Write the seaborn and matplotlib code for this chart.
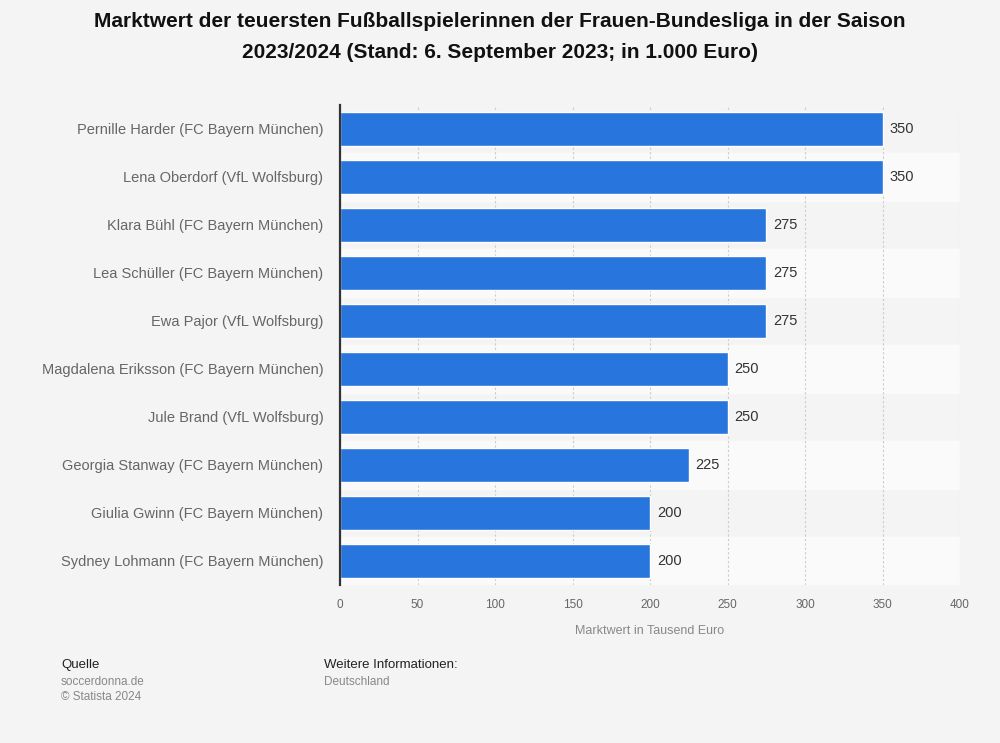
import pandas as pd
import seaborn as sns
import matplotlib.pyplot as plt

sns.set_theme(style="white")
plt.rcParams['font.family'] = ['Liberation Sans', 'DejaVu Sans']

# Data
players = [
    "Pernille Harder (FC Bayern München)",
    "Lena Oberdorf (VfL Wolfsburg)",
    "Klara Bühl (FC Bayern München)",
    "Lea Schüller (FC Bayern München)",
    "Ewa Pajor (VfL Wolfsburg)",
    "Magdalena Eriksson (FC Bayern München)",
    "Jule Brand (VfL Wolfsburg)",
    "Georgia Stanway (FC Bayern München)",
    "Giulia Gwinn (FC Bayern München)",
    "Sydney Lohmann (FC Bayern München)",
]
values = [350, 350, 275, 275, 275, 250, 250, 225, 200, 200]
xticks = [0, 50, 100, 150, 200, 250, 300, 350, 400]

df = pd.DataFrame({"Spielerin": players, "Wert": values})

bg = "#f4f4f4"
fig = plt.figure(figsize=(10, 7.43), dpi=100, facecolor=bg)
ax = fig.add_axes([0.34, 0.2127, 0.62, 0.6460])
ax.set_facecolor(bg)

# alternating row stripes
for i in range(len(players)):
    if i % 2 == 1:
        ax.axhspan(i - 0.5, i + 0.5, color="#fafafa", zorder=0.1)

# dotted vertical grid lines above the stripes
for t in xticks[1:]:
    ax.axvline(t, linestyle=(0, (2, 2)), color="#cccccc", linewidth=0.8, zorder=1)

sns.barplot(data=df, x="Wert", y="Spielerin", color="#2876dd", saturation=1,
            width=0.69, ax=ax, zorder=3)

for c in ax.containers:
    ax.bar_label(c, labels=[str(v) for v in values], padding=5,
                 fontsize=10.5, color="#333333")

ax.set_xlim(0, 400)
ax.set_ylim(len(players) - 0.5, -0.5)
ax.set_xticks(xticks)
ax.set_xticklabels([str(t) for t in xticks], fontsize=8.5, color="#666666")
ax.tick_params(axis="y", labelsize=10.5, labelcolor="#666666", length=0, pad=12)
ax.tick_params(axis="x", length=0, pad=10)
ax.grid(False)
for s in ["top", "right", "bottom"]:
    ax.spines[s].set_visible(False)
ax.spines["left"].set_color("#333333")
ax.spines["left"].set_linewidth(1.6)
ax.spines["left"].set_zorder(5)

ax.set_ylabel("")
ax.set_xlabel("Marktwert in Tausend Euro", fontsize=9, color="#888888", labelpad=10)

fig.text(0.5, 1 - 37 / 743, "Marktwert der teuersten Fußballspielerinnen der Frauen-Bundesliga in der Saison\n2023/2024 (Stand: 6. September 2023; in 1.000 Euro)",
         ha="center", va="center", fontsize=15, fontweight="bold", color="#111111",
         linespacing=1.8)

fig.text(0.061, 1 - 665 / 743, "Quelle", fontsize=9.5, color="#222222", va="center")
fig.text(0.061, 1 - 682 / 743, "soccerdonna.de", fontsize=8.5, color="#888888", va="center")
fig.text(0.061, 1 - 697 / 743, "© Statista 2024", fontsize=8.5, color="#888888", va="center")
fig.text(0.324, 1 - 665 / 743, "Weitere Informationen:", fontsize=9.5, color="#222222", va="center")
fig.text(0.324, 1 - 682 / 743, "Deutschland", fontsize=8.5, color="#888888", va="center")

fig.savefig("out.png", dpi=100, facecolor=bg)
